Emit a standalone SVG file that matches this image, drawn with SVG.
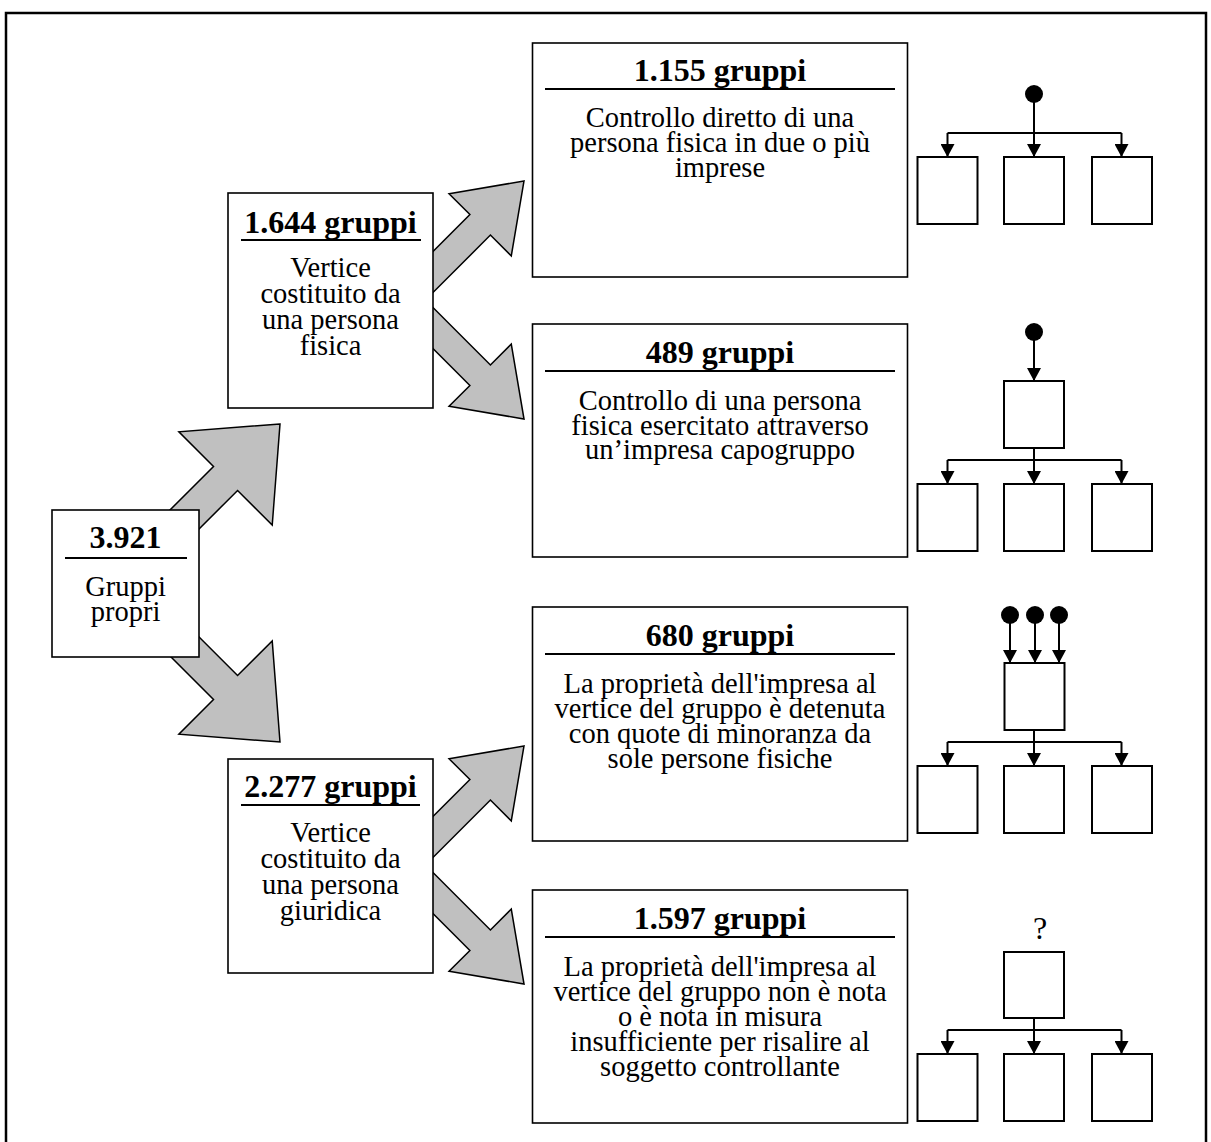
<svg xmlns="http://www.w3.org/2000/svg" width="1211" height="1142" viewBox="0 0 1211 1142">
<style>
.frame{fill:none;stroke:#000;stroke-width:2.5}
.box{fill:#fff;stroke:#000;stroke-width:1.6}
.arr{fill:#c0c0c0;stroke:#000;stroke-width:1.5;stroke-linejoin:miter}
.ul{stroke:#000;stroke-width:2}
.h{font-family:"Liberation Serif","Times New Roman",serif;font-weight:bold;font-size:32px;text-anchor:middle;fill:#000}
.t{font-family:"Liberation Serif","Times New Roman",serif;font-size:28.5px;text-anchor:middle;fill:#000}
.q{font-family:"Liberation Serif","Times New Roman",serif;font-size:32px;text-anchor:middle;fill:#000}
.tb{fill:#fff;stroke:#000;stroke-width:2}
.tl{fill:none;stroke:#000;stroke-width:2}
.dot{fill:#000}
</style>
<defs>
<marker id="ah" viewBox="0 0 13 14" refX="13" refY="7" markerWidth="13" markerHeight="14" markerUnits="userSpaceOnUse" orient="auto">
<path d="M0,0 L13,7 L0,14 z" fill="#000"/>
</marker>
<polygon id="bigArrow" points="0,0 -77,-66 -77,-17 -170,-17 -170,17 -77,17 -77,66"/>
<polygon id="smallArrow" points="0,0 -62,-44 -62,-14.5 -157,-14.5 -157,14.5 -62,14.5 -62,44"/>
</defs>
<rect class="frame" x="6" y="13" width="1200" height="1145"/>
<g id="connectors">
<use href="#bigArrow" class="arr" transform="translate(280,424) rotate(-45)"/>
<use href="#bigArrow" class="arr" transform="translate(280,742) rotate(45)"/>
<use href="#smallArrow" class="arr" transform="translate(524,181) rotate(-45)"/>
<use href="#smallArrow" class="arr" transform="translate(524,419) rotate(45)"/>
<use href="#smallArrow" class="arr" transform="translate(524,746) rotate(-45)"/>
<use href="#smallArrow" class="arr" transform="translate(524,984) rotate(45)"/>
</g>
<g id="node-total">
<rect class="box" x="52" y="510" width="147" height="147"/>
<text class="h" x="125.5" y="548">3.921</text>
<line class="ul" x1="65" y1="558" x2="187" y2="558"/>
<text class="t" x="125.5" y="596">Gruppi</text>
<text class="t" x="125.5" y="621">propri</text>
</g>
<g id="node-fisica">
<rect class="box" x="228" y="193" width="205" height="215"/>
<text class="h" x="330.5" y="233">1.644 gruppi</text>
<line class="ul" x1="241" y1="240" x2="421" y2="240"/>
<text class="t" x="330.5" y="277">Vertice</text>
<text class="t" x="330.5" y="303">costituito da</text>
<text class="t" x="330.5" y="329">una persona</text>
<text class="t" x="330.5" y="355">fisica</text>
</g>
<g id="node-giuridica">
<rect class="box" x="228" y="759" width="205" height="214"/>
<text class="h" x="330.5" y="797">2.277 gruppi</text>
<line class="ul" x1="241" y1="805" x2="420" y2="805"/>
<text class="t" x="330.5" y="842">Vertice</text>
<text class="t" x="330.5" y="868">costituito da</text>
<text class="t" x="330.5" y="894">una persona</text>
<text class="t" x="330.5" y="920">giuridica</text>
</g>
<g id="node-1155">
<rect class="box" x="532.5" y="43" width="375" height="234"/>
<text class="h" x="720" y="81">1.155 gruppi</text>
<line class="ul" x1="545" y1="89" x2="895" y2="89"/>
<text class="t" x="720" y="127">Controllo diretto di una</text>
<text class="t" x="720" y="152">persona fisica in due o più</text>
<text class="t" x="720" y="177">imprese</text>
</g>
<g id="node-489">
<rect class="box" x="532.5" y="324" width="375" height="233"/>
<text class="h" x="720" y="363">489 gruppi</text>
<line class="ul" x1="545" y1="371" x2="895" y2="371"/>
<text class="t" x="720" y="410">Controllo di una persona</text>
<text class="t" x="720" y="435">fisica esercitato attraverso</text>
<text class="t" x="720" y="459">un’impresa capogruppo</text>
</g>
<g id="node-680">
<rect class="box" x="532.5" y="607" width="375" height="234"/>
<text class="h" x="720" y="646">680 gruppi</text>
<line class="ul" x1="545" y1="654" x2="895" y2="654"/>
<text class="t" x="720" y="693">La proprietà dell'impresa al</text>
<text class="t" x="720" y="718">vertice del gruppo è detenuta</text>
<text class="t" x="720" y="743">con quote di minoranza da</text>
<text class="t" x="720" y="768">sole persone fisiche</text>
</g>
<g id="node-1597">
<rect class="box" x="532.5" y="890" width="375" height="233"/>
<text class="h" x="720" y="929">1.597 gruppi</text>
<line class="ul" x1="545" y1="937" x2="895" y2="937"/>
<text class="t" x="720" y="976">La proprietà dell'impresa al</text>
<text class="t" x="720" y="1001">vertice del gruppo non è nota</text>
<text class="t" x="720" y="1026">o è nota in misura</text>
<text class="t" x="720" y="1051">insufficiente per risalire al</text>
<text class="t" x="720" y="1076">soggetto controllante</text>
</g>
<g id="tree-1">
<circle class="dot" cx="1034" cy="94" r="9"/>
<path class="tl" d="M947.5,133 H1121.5"/>
<path class="tl" d="M1034,94 V157" marker-end="url(#ah)"/>
<path class="tl" d="M947.5,133 V157" marker-end="url(#ah)"/>
<path class="tl" d="M1121.5,133 V157" marker-end="url(#ah)"/>
<rect class="tb" x="917.5" y="157" width="60" height="67"/>
<rect class="tb" x="1004" y="157" width="60" height="67"/>
<rect class="tb" x="1092" y="157" width="60" height="67"/>
</g>
<g id="tree-2">
<circle class="dot" cx="1034" cy="332" r="9"/>
<path class="tl" d="M1034,332 V381" marker-end="url(#ah)"/>
<rect class="tb" x="1004" y="381" width="60" height="67"/>
<path class="tl" d="M947.5,460 H1121.5"/>
<path class="tl" d="M1034,448 V484" marker-end="url(#ah)"/>
<path class="tl" d="M947.5,460 V484" marker-end="url(#ah)"/>
<path class="tl" d="M1121.5,460 V484" marker-end="url(#ah)"/>
<rect class="tb" x="917.5" y="484" width="60" height="67"/>
<rect class="tb" x="1004" y="484" width="60" height="67"/>
<rect class="tb" x="1092" y="484" width="60" height="67"/>
</g>
<g id="tree-3">
<circle class="dot" cx="1010" cy="615" r="9"/>
<circle class="dot" cx="1035" cy="615" r="9"/>
<circle class="dot" cx="1059" cy="615" r="9"/>
<path class="tl" d="M1010,615 V663" marker-end="url(#ah)"/>
<path class="tl" d="M1035,615 V663" marker-end="url(#ah)"/>
<path class="tl" d="M1059,615 V663" marker-end="url(#ah)"/>
<rect class="tb" x="1004.5" y="663" width="60" height="67"/>
<path class="tl" d="M947.5,742 H1121.5"/>
<path class="tl" d="M1034,730 V766" marker-end="url(#ah)"/>
<path class="tl" d="M947.5,742 V766" marker-end="url(#ah)"/>
<path class="tl" d="M1121.5,742 V766" marker-end="url(#ah)"/>
<rect class="tb" x="917.5" y="766" width="60" height="67"/>
<rect class="tb" x="1004" y="766" width="60" height="67"/>
<rect class="tb" x="1092" y="766" width="60" height="67"/>
</g>
<g id="tree-4">
<text class="q" x="1040" y="939">?</text>
<rect class="tb" x="1004" y="952" width="60" height="66"/>
<path class="tl" d="M947.5,1030 H1121.5"/>
<path class="tl" d="M1034,1018 V1054" marker-end="url(#ah)"/>
<path class="tl" d="M947.5,1030 V1054" marker-end="url(#ah)"/>
<path class="tl" d="M1121.5,1030 V1054" marker-end="url(#ah)"/>
<rect class="tb" x="917.5" y="1054" width="60" height="67"/>
<rect class="tb" x="1004" y="1054" width="60" height="67"/>
<rect class="tb" x="1092" y="1054" width="60" height="67"/>
</g>
</svg>
